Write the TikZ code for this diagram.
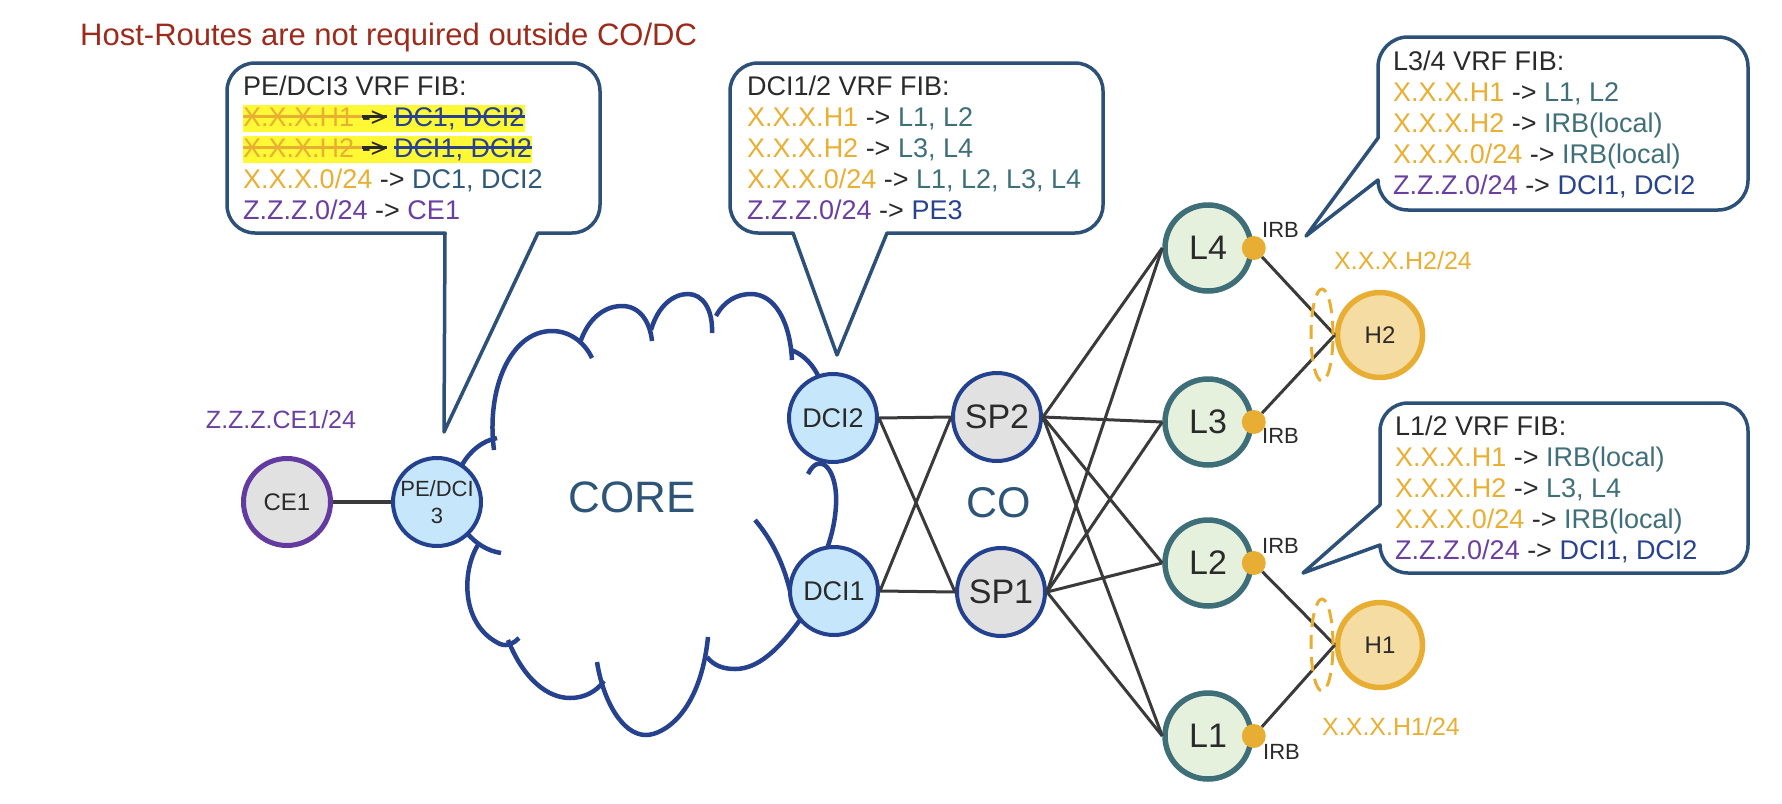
\documentclass[tikz,border=0pt]{standalone}
\usepackage{fontspec}
\setmainfont{Liberation Sans}
\definecolor{cOr}{HTML}{E9AF33}
\definecolor{cTe}{HTML}{3F6F78}
\definecolor{cPu}{HTML}{6A3FA0}
\definecolor{cBl}{HTML}{28428F}
\definecolor{cSl}{HTML}{2F587B}
\definecolor{cBox}{HTML}{2C5077}
\definecolor{cCloud}{HTML}{26428F}
\definecolor{cLine}{HTML}{3A3A3A}
\definecolor{cTitle}{HTML}{9C2B1C}
\definecolor{cDark}{HTML}{2A2A2A}
\definecolor{cHl}{HTML}{FFF835}
\definecolor{fDci}{HTML}{C6E6FB}
\definecolor{fSp}{HTML}{E1E1E1}
\definecolor{fL}{HTML}{E6F1DD}
\definecolor{eL}{HTML}{3E6E77}
\definecolor{fH}{HTML}{F5DCA2}
\definecolor{eH}{HTML}{E8AE33}
\definecolor{eCe}{HTML}{633BA0}
\definecolor{eNb}{HTML}{24418F}
\definecolor{cLbl}{HTML}{2E5577}
\newsavebox\stbx
\newcommand\strk[2]{\sbox\stbx{\textcolor{#1}{#2}}\usebox\stbx\llap{\textcolor{#1}{\rule[0.3em]{\wd\stbx}{0.1em}}}}
\newcommand\tOr[1]{\textcolor{cOr}{#1}}
\newcommand\tTe[1]{\textcolor{cTe}{#1}}
\newcommand\tPu[1]{\textcolor{cPu}{#1}}
\newcommand\tBl[1]{\textcolor{cBl}{#1}}
\newcommand\tSl[1]{\textcolor{cSl}{#1}}
\newcommand\hlrow[1]{{\setlength{\fboxsep}{0pt}\colorbox{cHl}{\rule[-0.22em]{0pt}{1em}#1}}}
\begin{document}
\begin{tikzpicture}[x=1pt,y=1pt,
  fib/.style={anchor=base west,inner sep=0pt,text=cDark,font=\fontsize{27}{31}\selectfont},
  callout/.style={draw=cBox,line width=3.5pt,fill=white,line join=round},
  cloudarc/.style={draw=cCloud,line width=4.5pt},
  link/.style={draw=cLine,line width=3pt},
  netnode/.style={circle,inner sep=0pt,text=cDark},
  dcinode/.style={netnode,fill=fDci,draw=eNb,line width=4pt,minimum size=88pt,font=\fontsize{27}{27}\selectfont},
  spnode/.style={netnode,fill=fSp,draw=eNb,line width=4pt,minimum size=88pt,font=\fontsize{34}{34}\selectfont},
  leaf/.style={netnode,fill=fL,draw=eL,line width=5.5pt,minimum size=86pt,font=\fontsize{34}{34}\selectfont},
  host/.style={netnode,fill=fH,draw=eH,line width=5.5pt,minimum size=85pt,font=\fontsize{24}{24}\selectfont},
  irbdot/.style={circle,fill=eH,inner sep=0pt,minimum size=24pt},
  irblbl/.style={anchor=west,inner sep=0pt,text=cDark,font=\fontsize{22}{22}\selectfont},
  hostlbl/.style={inner sep=0pt,text=cOr,font=\fontsize{25}{25}\selectfont},
  hostring/.style={draw=eH,line width=3pt,dash pattern=on 14pt off 8pt},
]
\useasboundingbox (0,0) rectangle (1782,-803);

% ---------- callouts ----------
\draw[callout] (445,-233) -- (255,-233) arc[start angle=270,end angle=180,radius=28pt]
  -- (227,-91) arc[start angle=180,end angle=90,radius=28pt]
  -- (572,-63) arc[start angle=90,end angle=0,radius=28pt]
  -- (600,-205) arc[start angle=0,end angle=-90,radius=28pt]
  -- (538,-233) -- (444,-432) -- cycle;
\draw[callout] (793,-233) -- (758,-233) arc[start angle=270,end angle=180,radius=28pt]
  -- (730,-91) arc[start angle=180,end angle=90,radius=28pt]
  -- (1075,-63) arc[start angle=90,end angle=0,radius=28pt]
  -- (1103,-205) arc[start angle=0,end angle=-90,radius=28pt]
  -- (887,-233) -- (837,-355) -- cycle;
\draw[callout] (1378,-138) -- (1378,-67) arc[start angle=180,end angle=90,radius=30pt]
  -- (1718,-37) arc[start angle=90,end angle=0,radius=30pt]
  -- (1748,-180) arc[start angle=0,end angle=-90,radius=30pt]
  -- (1408,-210) arc[start angle=270,end angle=180,radius=30pt]
  -- (1306,-236) -- cycle;
\draw[callout] (1380,-505) -- (1380,-431) arc[start angle=180,end angle=90,radius=28pt]
  -- (1720,-403) arc[start angle=90,end angle=0,radius=28pt]
  -- (1748,-545) arc[start angle=0,end angle=-90,radius=28pt]
  -- (1408,-573) arc[start angle=270,end angle=180,radius=28pt]
  -- (1303,-573) -- cycle;

% ---------- callout texts ----------
\node[fib] (pe0) at (243,-95) {PE/DCI3 VRF FIB:};
\node[fib] (pe1) at (243,-126) {\hlrow{\strk{cOr}{X.X.X.H1 }\strk{cDark}{->} \strk{cBl}{DC1, DCI2}}};
\node[fib] (pe2) at (243,-157) {\hlrow{\strk{cOr}{X.X.X.H2 }\strk{cDark}{->} \strk{cBl}{DCI1, DCI2}}};
\node[fib] (pe3) at (243,-188) {\tOr{X.X.X.0/24} -> \tSl{DC1, DCI2}};
\node[fib] (pe4) at (243,-219) {\tPu{Z.Z.Z.0/24} -> \tPu{CE1}};

\node[fib] (dc0) at (747,-95) {DCI1/2 VRF FIB:};
\node[fib] (dc1) at (747,-126) {\tOr{X.X.X.H1} -> \tTe{L1, L2}};
\node[fib] (dc2) at (747,-157) {\tOr{X.X.X.H2} -> \tTe{L3, L4}};
\node[fib] (dc3) at (747,-188) {\tOr{X.X.X.0/24} -> \tTe{L1, L2, L3, L4}};
\node[fib] (dc4) at (747,-219) {\tPu{Z.Z.Z.0/24} -> \tBl{PE3}};

\node[fib] (lb0) at (1393,-70) {L3/4 VRF FIB:};
\node[fib] (lb1) at (1393,-101) {\tOr{X.X.X.H1} -> \tTe{L1, L2}};
\node[fib] (lb2) at (1393,-132) {\tOr{X.X.X.H2} -> \tTe{IRB(local)}};
\node[fib] (lb3) at (1393,-163) {\tOr{X.X.X.0/24} -> \tTe{IRB(local)}};
\node[fib] (lb4) at (1393,-194) {\tPu{Z.Z.Z.0/24} -> \tBl{DCI1, DCI2}};

\node[fib] (la0) at (1395,-435) {L1/2 VRF FIB:};
\node[fib] (la1) at (1395,-466) {\tOr{X.X.X.H1} -> \tTe{IRB(local)}};
\node[fib] (la2) at (1395,-497) {\tOr{X.X.X.H2} -> \tTe{L3, L4}};
\node[fib] (la3) at (1395,-528) {\tOr{X.X.X.0/24} -> \tTe{IRB(local)}};
\node[fib] (la4) at (1395,-559) {\tPu{Z.Z.Z.0/24} -> \tBl{DCI1, DCI2}};

% ---------- cloud ----------
\draw[cloudarc] (494,-450) .. controls (486,-390) and (510,-331) .. (552,-331) .. controls (572,-331) and (586,-345) .. (592,-358);
\draw[cloudarc] (580,-343) .. controls (588,-318) and (605,-306) .. (622,-306) .. controls (640,-306) and (650,-322) .. (652,-341);
\draw[cloudarc] (651,-330) .. controls (658,-306) and (673,-294) .. (688,-294) .. controls (703,-294) and (713,-310) .. (712,-333);
\draw[cloudarc] (716,-316) .. controls (724,-301) and (737,-294) .. (751,-294) .. controls (775,-294) and (790,-322) .. (792,-360);
\draw[cloudarc] (791,-350) .. controls (803,-354) and (814,-365) .. (820,-380);
\draw[cloudarc] (808,-474) .. controls (820,-450) and (838,-470) .. (836,-505) .. controls (835,-525) and (830,-540) .. (826,-552);
\draw[cloudarc] (755,-520) .. controls (772,-540) and (785,-565) .. (792,-600);
\draw[cloudarc] (707,-657) .. controls (714,-666) and (724,-669) .. (735,-669) .. controls (758,-669) and (778,-650) .. (800,-620);
\draw[cloudarc] (597,-662) .. controls (603,-700) and (622,-735) .. (646,-735) .. controls (662,-735) and (700,-715) .. (708,-637);
\draw[cloudarc] (508,-640) .. controls (524,-680) and (548,-698) .. (570,-698) .. controls (584,-698) and (596,-692) .. (604,-681);
\draw[cloudarc] (478,-545) .. controls (462,-570) and (460,-625) .. (500,-644) .. controls (508,-647) and (514,-643) .. (519,-638);
\draw[cloudarc] (462,-465) .. controls (470,-451) and (482,-441) .. (497,-438);
\draw[cloudarc] (466,-532) .. controls (476,-544) and (488,-551) .. (501,-553);

% ---------- nodes ----------
\node[netnode,fill=fSp,draw=eCe,line width=5pt,minimum size=87pt,font=\fontsize{24}{24}\selectfont] (ce1) at (287,-502) {CE1};
\node[dcinode,align=center,font=\fontsize{22}{27}\selectfont] (pe) at (437,-502) {PE/DCI\\3};
\node[dcinode] (dci2) at (833,-418) {DCI2};
\node[dcinode] (dci1) at (834,-591) {DCI1};
\node[spnode] (sp2) at (997,-417) {SP2};
\node[spnode] (sp1) at (1001,-592) {SP1};
\node[leaf] (l4) at (1208,-248) {L4};
\node[leaf] (l3) at (1208,-422) {L3};
\node[leaf] (l2) at (1208,-563) {L2};
\node[leaf] (l1) at (1208,-736) {L1};
\node[host] (h2) at (1380,-335) {H2};
\node[host] (h1) at (1380,-645) {H1};
\node[irbdot] (irb4) at (l4.east) {};
\node[irbdot] (irb3) at (l3.east) {};
\node[irbdot] (irb2) at (l2.east) {};
\node[irbdot] (irb1) at (l1.east) {};

% ---------- links ----------
\draw[link,line width=4pt] (ce1.east) -- (pe.west);
\draw[link] (dci2.east) -- (sp2.west);
\draw[link] (dci2.east) -- (sp1.west);
\draw[link] (dci1.east) -- (sp2.west);
\draw[link] (dci1.east) -- (sp1.west);
\foreach \s in {sp1,sp2}{
  \foreach \l in {l1,l2,l3,l4}{
    \draw[link] (\s.east) -- (\l.west);
  }
}
\draw[link] (irb4) -- (h2.west);
\draw[link] (irb3) -- (h2.west);
\draw[link] (irb2) -- (h1.west);
\draw[link] (irb1) -- (h1.west);
\draw[hostring] (1322,-335) ellipse[x radius=11pt,y radius=46pt];
\draw[hostring] (1322,-645) ellipse[x radius=11pt,y radius=46pt];

% ---------- labels ----------
\node[anchor=west,inner sep=0pt,text=cTitle,font=\fontsize{31}{31}\selectfont] (title) at (80,-37) {Host-Routes are not required outside CO/DC};
\node[inner sep=0pt,text=cPu,font=\fontsize{25}{25}\selectfont] (celbl) at (281,-420) {Z.Z.Z.CE1/24};
\node[inner sep=0pt,text=cLbl,font=\fontsize{44}{44}\selectfont] (core) at (632,-497) {CORE};
\node[inner sep=0pt,text=cLbl,font=\fontsize{43}{43}\selectfont] (co) at (999,-503) {CO};
\node[irblbl] (irbl4) at (1262,-230) {IRB};
\node[irblbl] (irbl3) at (1262,-436) {IRB};
\node[irblbl] (irbl2) at (1262,-546) {IRB};
\node[irblbl] (irbl1) at (1263,-752) {IRB};
\node[hostlbl] (h2lbl) at (1403,-261) {X.X.X.H2/24};
\node[hostlbl] (h1lbl) at (1391,-727) {X.X.X.H1/24};
\end{tikzpicture}
\end{document}
